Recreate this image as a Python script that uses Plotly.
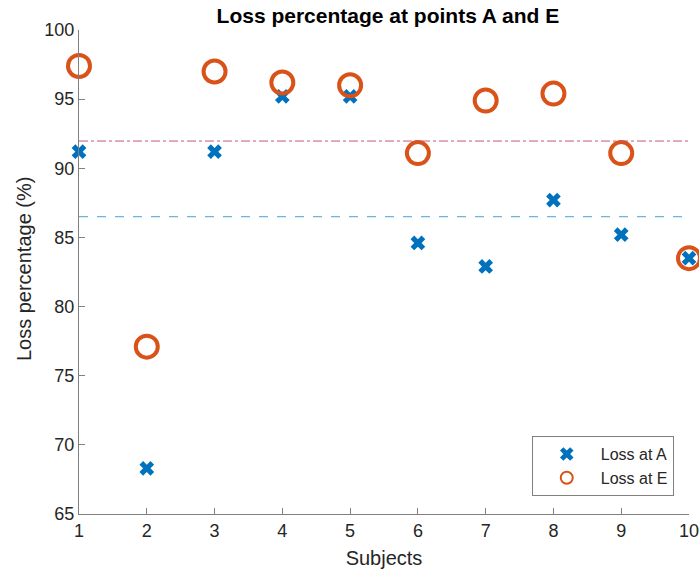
import numpy as np
import plotly.graph_objects as go

subjects = [1, 2, 3, 4, 5, 6, 7, 8, 9, 10]
loss_a = [91.2, 68.3, 91.2, 95.2, 95.2, 84.6, 82.9, 87.7, 85.2, 83.5]
loss_e = [97.4, 77.1, 97.0, 96.2, 96.0, 91.1, 94.9, 95.4, 91.1, 83.5]
y_ticks = [65, 70, 75, 80, 85, 90, 95, 100]

mean_a = float(np.mean(loss_a))
mean_e = float(np.mean(loss_e))

BLUE = "#0072BD"
ORANGE = "#D95319"
FONT = "Liberation Sans, Arial, sans-serif"
TXT = "#262626"

fig = go.Figure()
fig.add_trace(go.Scatter(
    x=subjects, y=loss_a, mode="markers", name="Loss at A",
    marker=dict(symbol="x", size=13, color=BLUE, line=dict(width=0)),
    cliponaxis=False,
))
fig.add_trace(go.Scatter(
    x=subjects, y=loss_e, mode="markers", name="Loss at E",
    marker=dict(symbol="circle-open", size=22, color=ORANGE, line=dict(width=4, color=ORANGE)),
    cliponaxis=False,
))
fig.add_trace(go.Scatter(
    x=[subjects[0], subjects[-1]], y=[mean_e, mean_e], mode="lines",
    line=dict(color="#C9577A", width=1, dash="dashdot"), showlegend=False, hoverinfo="skip",
))
fig.add_trace(go.Scatter(
    x=[subjects[0], subjects[-1]], y=[mean_a, mean_a], mode="lines",
    line=dict(color="#6CB5E3", width=1.3, dash="dash"), showlegend=False, hoverinfo="skip",
))

axis_common = dict(
    showgrid=False, zeroline=False, showline=True, linecolor="#808080", linewidth=1,
    ticks="inside", ticklen=6, tickcolor="#808080", tickfont=dict(size=18, color=TXT, family=FONT),
    mirror=False, automargin=False, ticklabeloverflow="allow",
)
fig.update_xaxes(range=[1, 10], tickvals=subjects, ticktext=[str(s) for s in subjects],
                 title=dict(text="Subjects", font=dict(size=20, color=TXT, family=FONT), standoff=11),
                 **axis_common)
fig.update_yaxes(range=[65, 100], tickvals=y_ticks, ticktext=[str(t) for t in y_ticks],
                 **axis_common)

fig.add_annotation(
    text="Loss percentage (%)", xref="paper", yref="paper", x=-55 / 610, y=0.506,
    xanchor="center", yanchor="middle", textangle=-90, showarrow=False,
    font=dict(size=20, color=TXT, family=FONT),
)

fig.update_layout(
    width=699, height=573,
    margin=dict(l=79, r=10, t=30, b=59, autoexpand=False),
    plot_bgcolor="white", paper_bgcolor="white",
    title=dict(text="<b>Loss percentage at points A and E</b>", x=0.555, xanchor="center", y=0.972, yanchor="middle",
               font=dict(size=21, color="black", family=FONT)),
    legend=dict(x=0.975, y=0.037, xanchor="right", yanchor="bottom", bordercolor="#808080", borderwidth=1,
                bgcolor="white", font=dict(size=16, color=TXT, family=FONT), tracegroupgap=0,
                itemsizing="constant", itemwidth=58),
    showlegend=True,
)

# remove the default 8px page margin so the 699x573 figure fills the window exactly
fig.write_html("out.html", config={"displayModeBar": False},
               post_script="document.body.style.margin='0';document.body.style.overflow='hidden';")
